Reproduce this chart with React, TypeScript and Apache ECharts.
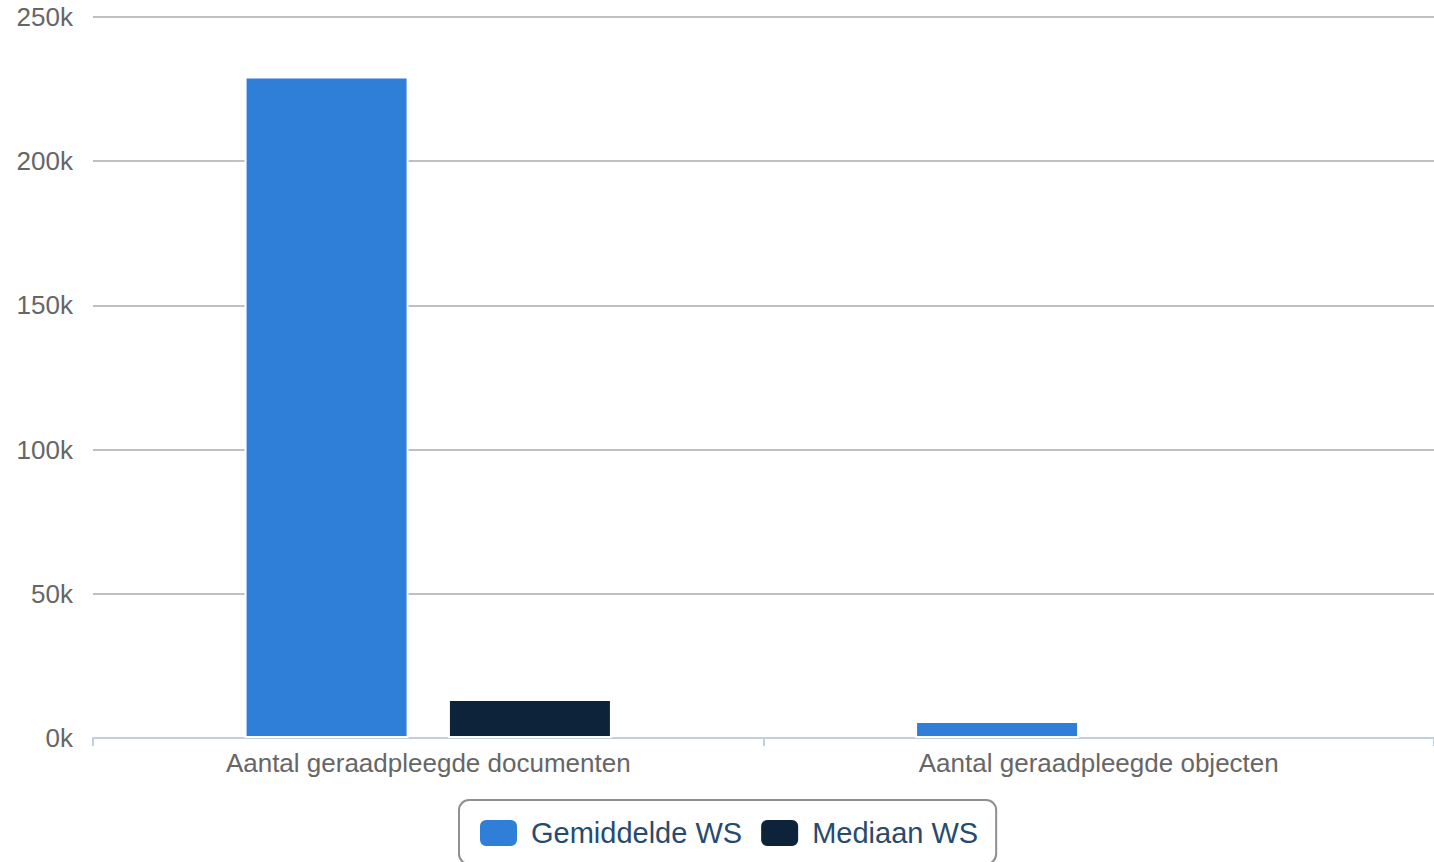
import React, { useEffect, useRef } from "react";
import * as echarts from "echarts";

const categories = ["Aantal geraadpleegde documenten", "Aantal geraadpleegde objecten"];
const gemiddelde = [229400, 5900];
const mediaan = [13500, 0];
const seriesNames = ["Gemiddelde WS", "Mediaan WS"];
const colors = ["#2f7ed8", "#0d233a"];

const FONT = "Liberation Sans, Arial, sans-serif";

function toData(values: number[]) {
  return values.map((v) =>
    v === 0 ? { value: v, itemStyle: { borderWidth: 0 } } : { value: v }
  );
}

export default function App() {
  const ref = useRef<HTMLDivElement>(null);
  useEffect(() => {
    const chart = echarts.init(ref.current!, null, { renderer: "svg" });
    chart.setOption({
      animation: false,
      backgroundColor: "#ffffff",
      textStyle: { fontFamily: FONT },
      grid: { left: 93, right: 0, top: 17, bottom: 124, containLabel: false },
      xAxis: {
        type: "category",
        data: categories,
        axisLine: { lineStyle: { color: "#C0D0E0", width: 2 } },
        axisTick: { show: true, length: 8, lineStyle: { color: "#C0D0E0", width: 2 } },
        axisLabel: { color: "#666666", fontSize: 26, margin: 12, fontFamily: FONT },
        splitLine: { show: false },
      },
      yAxis: {
        type: "value",
        min: 0,
        max: 250000,
        interval: 50000,
        axisLine: { show: false },
        axisTick: { show: false },
        axisLabel: {
          color: "#666666",
          fontSize: 26,
          margin: 20,
          fontFamily: FONT,
          formatter: (v: number) => `${v / 1000}k`,
        },
        splitLine: { lineStyle: { color: "#C0C0C0", width: 2 } },
      },
      legend: {
        data: seriesNames,
        left: 459,
        top: 800,
        orient: "horizontal",
        borderColor: "#909090",
        borderWidth: 2,
        borderRadius: 10,
        padding: [18, 18, 16, 19],
        itemWidth: 39,
        itemHeight: 28,
        itemGap: 17,
        icon: "roundRect",
        textStyle: {
          color: "#274b6d",
          fontSize: 29,
          fontFamily: FONT,
          padding: [0, 0, 0, 8],
        },
      },
      series: [
        {
          name: seriesNames[0],
          type: "bar",
          data: toData(gemiddelde),
          barWidth: 164,
          barGap: "24%",
          itemStyle: { color: colors[0], borderColor: "#ffffff", borderWidth: 2 },
        },
        {
          name: seriesNames[1],
          type: "bar",
          data: toData(mediaan),
          barWidth: 164,
          itemStyle: { color: colors[1], borderColor: "#ffffff", borderWidth: 2 },
        },
      ],
    });
    return () => chart.dispose();
  }, []);
  return (
    <div
      ref={ref}
      style={{ position: "fixed", left: 0, top: 0, width: 1434, height: 862 }}
    />
  );
}
